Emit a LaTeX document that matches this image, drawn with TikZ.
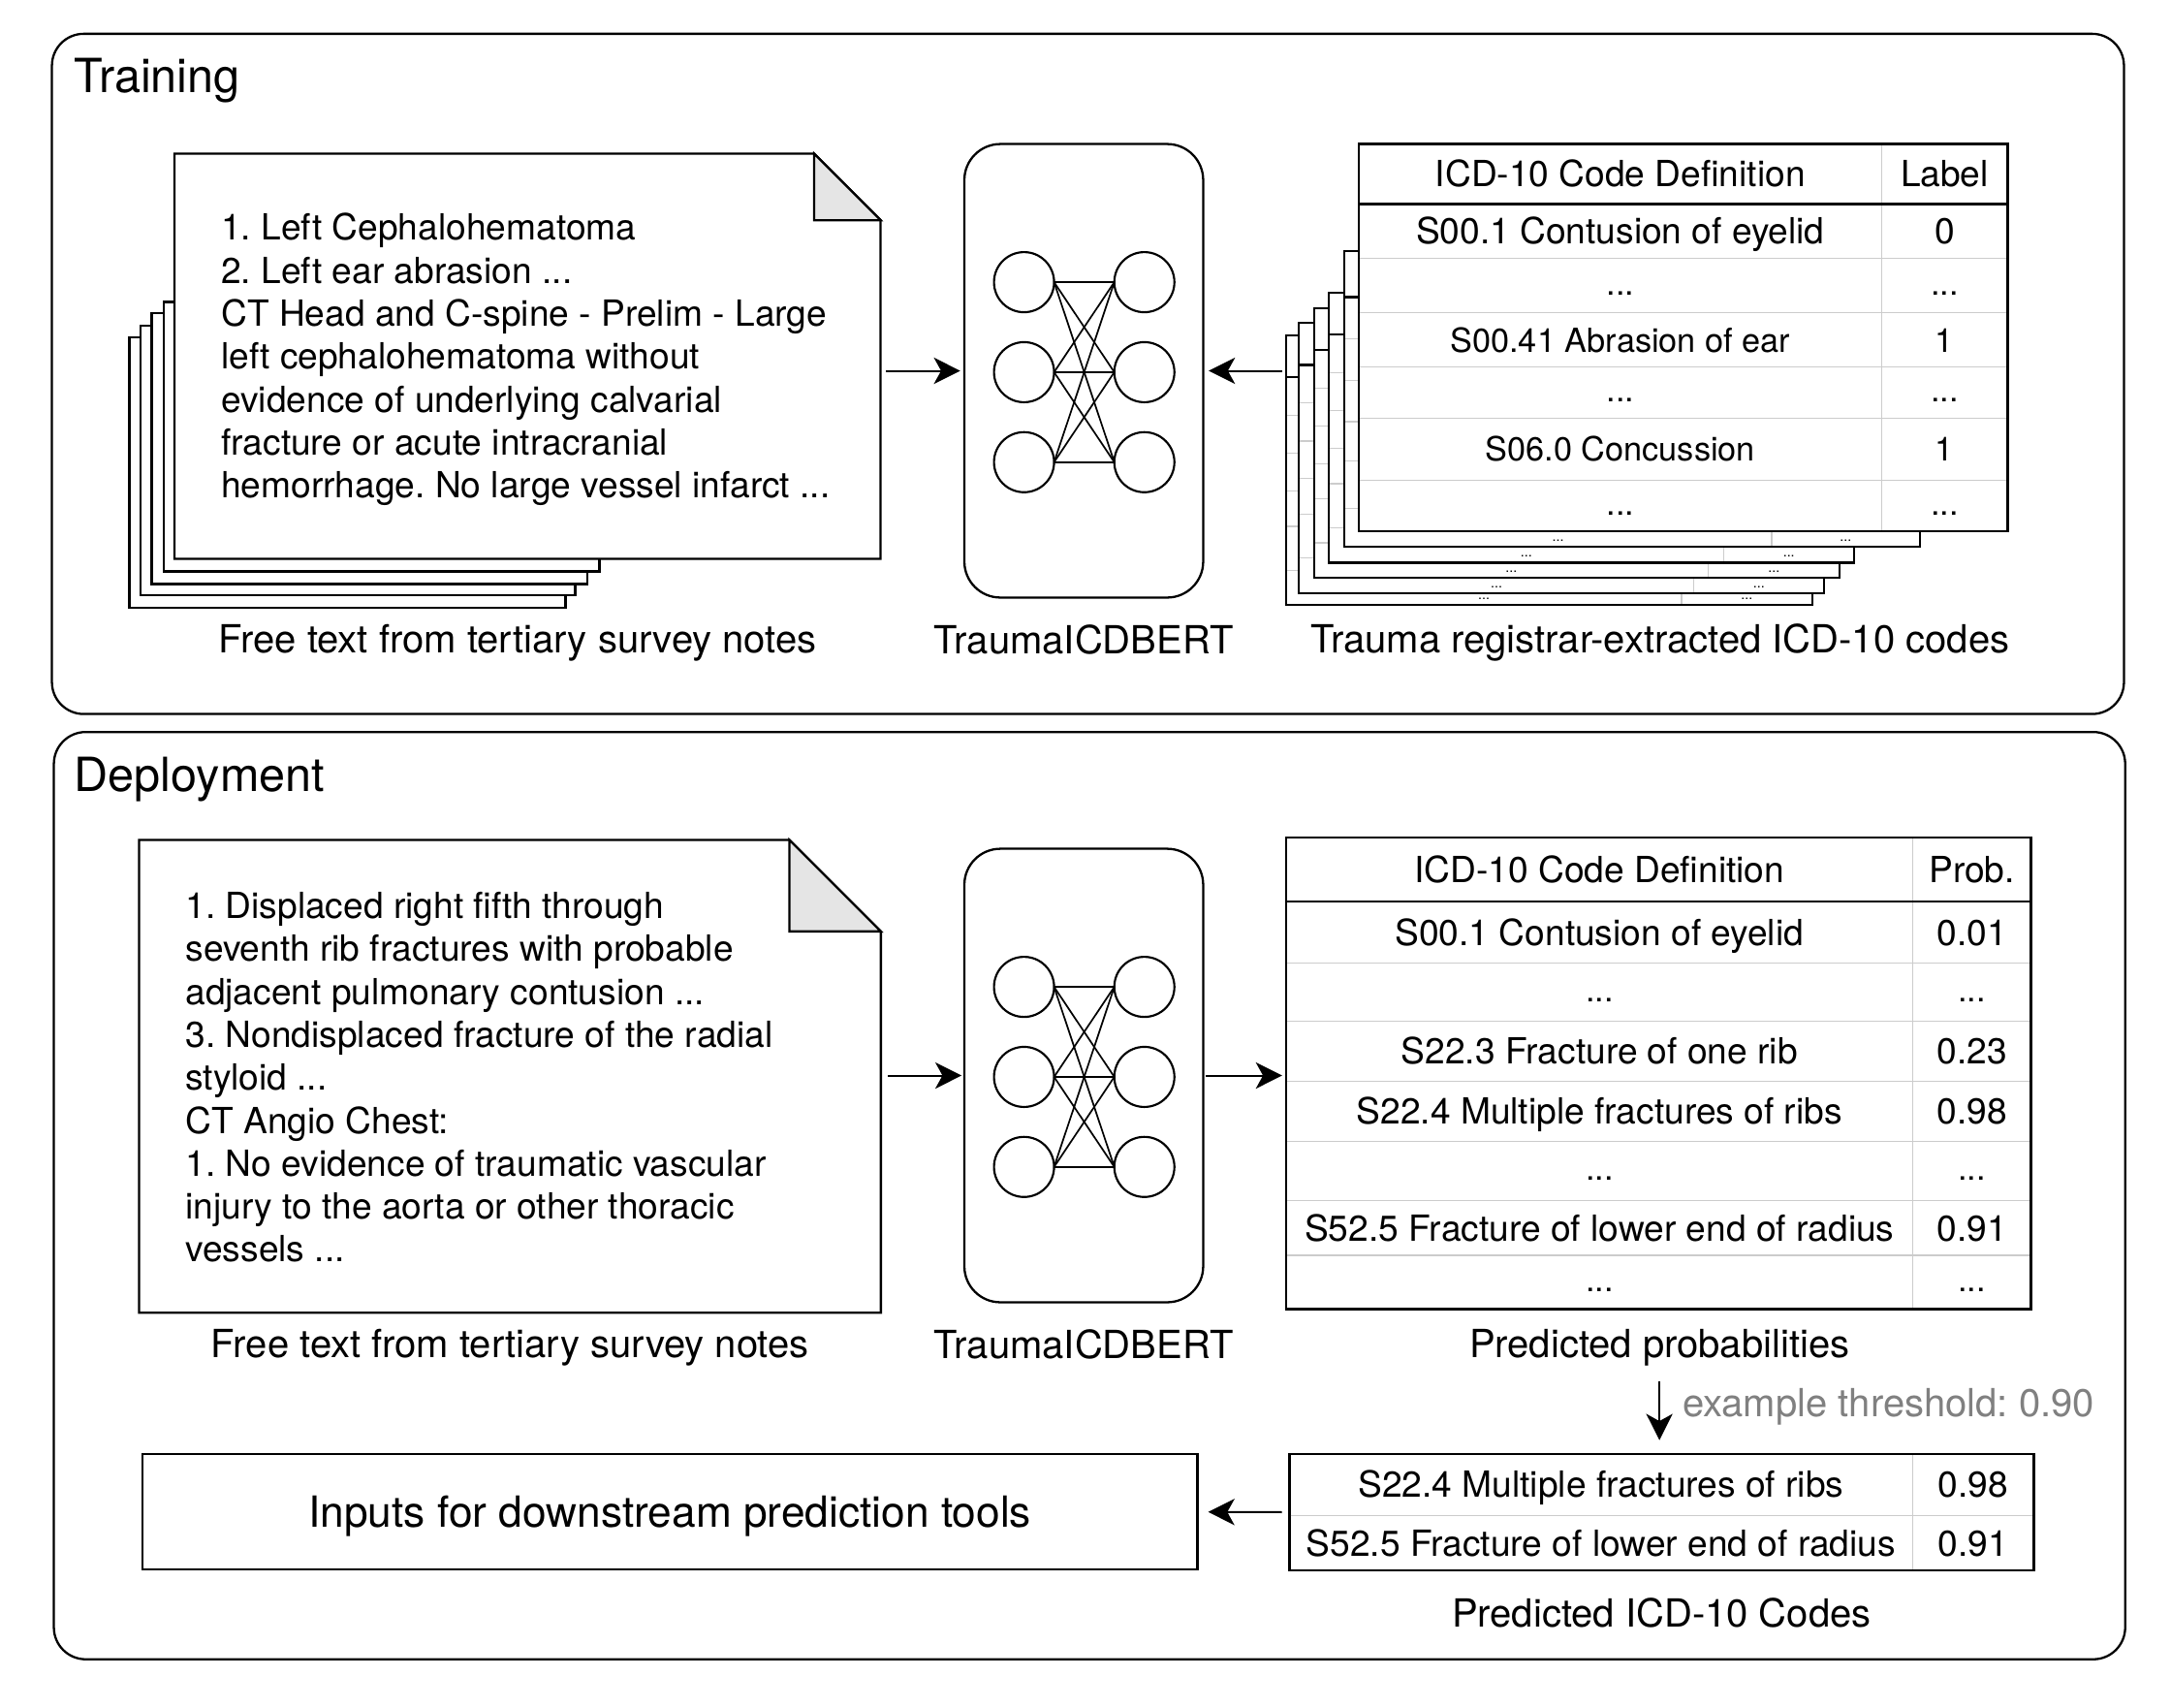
\documentclass[tikz,border=0pt]{standalone}
\usepackage{fontspec}
\setmainfont{TeX Gyre Heros}
\usetikzlibrary{arrows.meta}
\frenchspacing

\tikzset{
  panel/.style={draw, line width=0.8pt, rounded corners=11.5pt, outer sep=0pt},
  ttl/.style={font=\fontsize{17}{19}\selectfont, anchor=base west, inner sep=0pt},
  capt/.style={font=\fontsize{14}{16}\selectfont, anchor=base, inner sep=0pt},
  notetext/.style={font=\fontsize{13}{15.5}\selectfont, align=left, anchor=north west, inner sep=0pt},
  nnbox/.style={draw, line width=0.8pt, rounded corners=13pt, minimum width=86.25pt, minimum height=163.75pt, outer sep=0pt},
  neuron/.style={circle, draw, line width=0.75pt, minimum size=21.7pt, inner sep=0pt, outer sep=0pt},
  nnlink/.style={line width=0.6pt},
  tabbox/.style={draw, fill=white, line width=0.8pt, outer sep=0pt, inner sep=0pt},
  rowline/.style={gray!40, line width=0.4pt, shorten <=0.4pt, shorten >=0.4pt},
  cell/.style={font=\fontsize{13}{15}\selectfont, text height=9.3pt, text depth=0pt, inner sep=0pt},
  smallcell/.style={font=\fontsize{12}{14}\selectfont, text height=8.6pt, text depth=0pt, inner sep=0pt},
  dotcell/.style={font=\fontsize{12}{14}\selectfont, inner sep=0pt, yshift=-2.8pt},
  tinydots/.style={font=\fontsize{5}{6}\selectfont, inner sep=0pt},
  arr/.style={line width=0.7pt, -{Stealth[length=9.5pt, width=9.5pt, inset=2.6pt]}, shorten <=2pt, shorten >=1.5pt}
}

\begin{document}
\begin{tikzpicture}[x=0.5pt, y=-0.5pt, line width=0.8pt]
  \useasboundingbox (0,0) rectangle (1568,1233);

  % panels
  \node[panel, minimum width=748.25pt, minimum height=245.6pt] (train) at (785.75,270) {};
  \node[panel, minimum width=748pt, minimum height=334.8pt] (deploy) at (786.9,863.4) {};
  \node[ttl] (trainttl) at (53,66.8) {Training};
  \node[ttl] (deployttl) at (53,571.8) {Deployment};

  % training notes
  \foreach \xa/\ya/\xb/\yb in {93.5/243.7/408.5/439, 101.5/235/415.5/430, 109.5/226/424/421.7, 118.5/218/433/412.7}
    \draw[fill=white] (\xa,\ya) rectangle (\xb,\yb);
  \node[minimum width=255pt, minimum height=146.3pt, outer sep=0pt] (noteT) at (381,257.3) {};
  \draw[fill=white] (noteT.south west) -- (noteT.north west) -- ([xshift=-24pt]noteT.north east)
    -- ([yshift=-24pt]noteT.north east) -- (noteT.south east) -- cycle;
  \draw[fill=gray!20] ([xshift=-24pt]noteT.north east) |- ([yshift=-24pt]noteT.north east) -- cycle;
  \node[notetext] (noteTtxt) at (159,153.3) {1. Left Cephalohematoma\\2. Left ear abrasion ...\\CT Head and C-spine - Prelim - Large\\left cephalohematoma without\\evidence of underlying calvarial\\fracture or acute intracranial\\hemorrhage. No large vessel infarct ...};

  % networks
  \foreach \s/\yc in {T/267.75, D/776.65} {
    \node[nnbox] (nn\s) at (782.75,\yc) {};
    \foreach \k/\dy in {1/-64, 2/1, 3/66} {
      \node[neuron] (in\s\k) at (739.6,{\yc+(\dy)}) {};
      \node[neuron] (out\s\k) at (826.5,{\yc+(\dy)}) {};
    }
    \foreach \a in {1,2,3} \foreach \b in {1,2,3}
      \draw[nnlink] (in\s\a.east) -- (out\s\b.west);
  }

  % training label tables
  \foreach \xl/\yt/\xr/\yb/\xd [count=\i] in {929.1/242/1308.8/437/1214.5, 938.2/233.3/1317.4/428.2/1223.4, 949/222.4/1328.4/417.3/1234, 959.7/211.2/1339/406.3/1245, 971.1/181.5/1386.6/395/1279.6} {
    \node[tabbox, anchor=north west, minimum width={(\xr-\xl)*0.5pt}, minimum height={(\yb-\yt)*0.5pt}] (bk\i) at (\xl,\yt) {};
    \foreach \f in {0.296,0.437,0.576,0.708,0.870}
      \draw[rowline] (\xl,{\yt+\f*(\yb-\yt)}) -- (\xr,{\yt+\f*(\yb-\yt)});
    \draw[rowline] (\xd,\yt) -- (\xd,\yb);
    \draw (\xl,{\yt+0.155*(\yb-\yt)}) -- (\xr,{\yt+0.155*(\yb-\yt)});
    \node[tinydots] (bkd\i) at ({(\xl+\xd)/2},\yb-4.5) {...};
    \node[tinydots] (bkl\i) at ({(\xd+\xr)/2},\yb-4.5) {...};
  }
  \node[tabbox, minimum width=234.25pt, minimum height=139.7pt] (lblT) at (1215.75,243.7) {};
  \foreach \y in {186.7,226,265,301.8,347}
    \draw[rowline] (981.5,\y) -- (1450,\y);
  \draw[rowline] (1359,104) -- (1359,383.4);
  \draw (981.5,147.4) -- (1450,147.4);
  \node[cell] (lblTh1) at (1170.25,125.7) {ICD-10 Code Definition};
  \node[cell] (lblTh2) at (1404.5,125.7) {Label};
  \node[cell] (lblTa1) at (1170.25,167) {S00.1 Contusion of eyelid};
  \node[cell] (lblTb1) at (1404.5,167) {0};
  \node[smallcell] (lblTa3) at (1170.25,245.5) {S00.41 Abrasion of ear};
  \node[smallcell] (lblTb3) at (1404.5,245.5) {1};
  \node[smallcell] (lblTa5) at (1170.25,324.4) {S06.0 Concussion};
  \node[smallcell] (lblTb5) at (1404.5,324.4) {1};
  \foreach \y [count=\i] in {206.3,283.4,365.2} {
    \node[dotcell] (lblTda\i) at (1170.25,\y) {...};
    \node[dotcell] (lblTdb\i) at (1404.5,\y) {...};
  }

  \node[capt] (noteTcap) at (373.8,471.6) {Free text from tertiary survey notes};
  \node[capt] (nnTcap) at (782.7,472) {TraumaICDBERT};
  \node[capt] (lblTcap) at (1199,471.6) {Trauma registrar-extracted ICD-10 codes};

  \draw[arr] (noteT.east |- nnT.west) -- (nnT.west);
  \draw[arr, shorten <=1.5pt, shorten >=2pt] (bk1.west |- nnT.east) -- (nnT.east);

  % deployment note
  \node[minimum width=267.85pt, minimum height=170.7pt, outer sep=0pt] (noteD) at (368.35,777.3) {};
  \draw[fill=white] (noteD.south west) -- (noteD.north west) -- ([xshift=-33pt]noteD.north east)
    -- ([yshift=-33pt]noteD.north east) -- (noteD.south east) -- cycle;
  \draw[fill=gray!20] ([xshift=-33pt]noteD.north east) |- ([yshift=-33pt]noteD.north east) -- cycle;
  \node[notetext] (noteDtxt) at (133.2,643.5) {1. Displaced right fifth through\\seventh rib fractures with probable\\adjacent pulmonary contusion ...\\3. Nondisplaced fracture of the radial\\styloid ...\\CT Angio Chest:\\1. No evidence of traumatic vascular\\injury to the aorta or other thoracic\\vessels ...};

  % probability table
  \node[tabbox, minimum width=268.95pt, minimum height=170.3pt] (probT) at (1197.95,775.1) {};
  \foreach \y in {695.7,737.5,780.9,824.2,867.2,906.5}
    \draw[rowline] (929,\y) -- (1466.9,\y);
  \draw[rowline] (1381.4,604.8) -- (1381.4,945.4);
  \draw (929,650.9) -- (1466.9,650.9);
  \node[cell] (probh1) at (1155.2,627.9) {ICD-10 Code Definition};
  \node[cell] (probh2) at (1424.2,627.9) {Prob.};
  \foreach \y/\txt/\val [count=\i] in {673.3/S00.1 Contusion of eyelid/0.01, 759.2/S22.3 Fracture of one rib/0.23, 802.5/S22.4 Multiple fractures of ribs/0.98, 886.8/S52.5 Fracture of lower end of radius/0.91} {
    \node[cell] (proba\i) at (1155.2,\y) {\txt};
    \node[cell] (probb\i) at (1424.2,\y) {\val};
  }
  \foreach \y [count=\i] in {716.6,845.7,926} {
    \node[dotcell] (probda\i) at (1155.2,\y) {...};
    \node[dotcell] (probdb\i) at (1424.2,\y) {...};
  }

  % selected codes
  \node[tabbox, minimum width=268.8pt, minimum height=42pt] (codes) at (1200.2,1092) {};
  \draw[rowline] (931.4,1094.3) -- (1469,1094.3);
  \draw[rowline] (1381.2,1050) -- (1381.2,1134);
  \node[cell] (codesa1) at (1156.3,1072.1) {S22.4 Multiple fractures of ribs};
  \node[cell] (codesb1) at (1425.1,1072.1) {0.98};
  \node[cell] (codesa2) at (1156.3,1114.2) {S52.5 Fracture of lower end of radius};
  \node[cell] (codesb2) at (1425.1,1114.2) {0.91};

  \node[draw, outer sep=0pt, minimum width=381.05pt, minimum height=41.75pt, text height=11.1pt, text depth=0pt,
    font=\fontsize{15.5}{18}\selectfont] (inputs) at (483.75,1091.75) {Inputs for downstream prediction tools};

  \node[capt] (noteDcap) at (368.4,980.5) {Free text from tertiary survey notes};
  \node[capt] (nnDcap) at (782.7,981) {TraumaICDBERT};
  \node[capt] (probcap) at (1198.5,980.5) {Predicted probabilities};
  \node[capt] (codescap) at (1200,1174.8) {Predicted ICD-10 Codes};

  \draw[arr, shorten <=2.6pt, shorten >=1pt] (noteD.east |- nnD.west) -- (nnD.west);
  \draw[arr, shorten <=1pt, shorten >=1.5pt] (nnD.east) -- (probT.west |- nnD.east);
  \draw[arr, shorten <=5pt, shorten >=5pt] (probcap.south) -- (probcap.south |- codes.north)
    node[midway, anchor=west, xshift=8pt, yshift=1.5pt, inner sep=0pt, text=gray, font=\fontsize{14}{16}\selectfont] (thrlbl) {example threshold: 0.90};
  \draw[arr, shorten <=2.75pt, shorten >=3.9pt] (codes.west) -- (inputs.east);
\end{tikzpicture}
\end{document}
